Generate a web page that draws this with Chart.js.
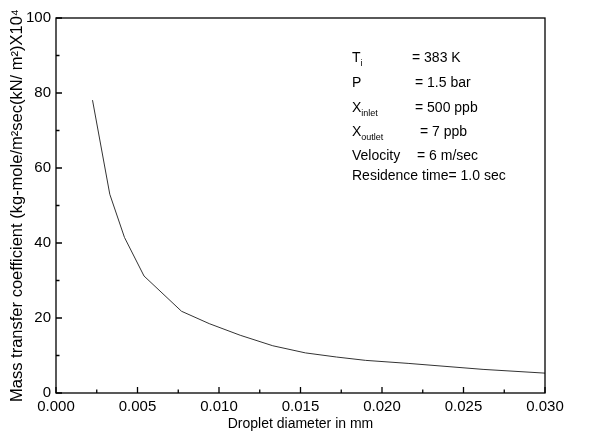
<!DOCTYPE html>
<html>
<head>
<meta charset="utf-8">
<script src="https://cdn.jsdelivr.net/npm/chart.js@4/dist/chart.umd.min.js"></script>
<style>
html,body{margin:0;padding:0;background:#fff;}
#wrap{width:608px;height:433px;}
</style>
</head>
<body>
<div id="wrap"><canvas id="c" width="608" height="433"></canvas></div>
<script>
// Data
const dropletDiameter = [0.00224, 0.0033, 0.0042, 0.0054, 0.0077, 0.0094, 0.0113, 0.0133, 0.0153, 0.0172, 0.0190, 0.0216, 0.0262, 0.0300];
const massTransferCoef = [78.1, 53.0, 41.5, 31.2, 21.8, 18.5, 15.4, 12.6, 10.7, 9.6, 8.7, 7.9, 6.3, 5.3];
const xTicks = [0.000, 0.005, 0.010, 0.015, 0.020, 0.025, 0.030];
const yTicks = [0, 20, 40, 60, 80, 100];
const xMinorTicks = [0.0025, 0.0075, 0.0125, 0.0175, 0.0225, 0.0275];
const yMinorTicks = [10, 30, 50, 70, 90];
// Annotation: [main, subscript, value]
const noteLabels = ["T", "P", "X", "X", "Velocity", "Residence time"];
const noteSubs = ["i", "", "inlet", "outlet", "", ""];
const noteValues = ["= 383 K", "= 1.5 bar", "= 500 ppb", "= 7 ppb", "= 6 m/sec", "= 1.0 sec"];

const FONT = "Liberation Sans, Arial, Helvetica, sans-serif";

const points = dropletDiameter.map((x, i) => ({x: x, y: massTransferCoef[i]}));

const framePlugin = {
  id: 'frame',
  afterDraw(chart) {
    const ctx = chart.ctx;
    const a = chart.chartArea;
    const xs = chart.scales.x, ys = chart.scales.y;
    ctx.save();
    ctx.strokeStyle = '#000';
    ctx.lineWidth = 1.3;
    ctx.strokeRect(a.left, a.top, a.right - a.left, a.bottom - a.top);
    ctx.beginPath();
    xTicks.forEach(v => { const p = xs.getPixelForValue(v); ctx.moveTo(p, a.bottom); ctx.lineTo(p, a.bottom - 6); });
    xMinorTicks.forEach(v => { const p = xs.getPixelForValue(v); ctx.moveTo(p, a.bottom); ctx.lineTo(p, a.bottom - 3.5); });
    yTicks.forEach(v => { const p = ys.getPixelForValue(v); ctx.moveTo(a.left, p); ctx.lineTo(a.left + 6, p); });
    yMinorTicks.forEach(v => { const p = ys.getPixelForValue(v); ctx.moveTo(a.left, p); ctx.lineTo(a.left + 3.5, p); });
    ctx.stroke();

    // annotation block
    ctx.fillStyle = '#000';
    ctx.textBaseline = 'alphabetic';
    const lineY = [62, 87, 112, 136, 160, 180];
    const valX = [412, 415, 415, 420, 417, 0];
    const left = a.left + 296;
    for (let i = 0; i < noteLabels.length; i++) {
      const y = lineY[i];
      ctx.font = '14px ' + FONT;
      ctx.textAlign = 'left';
      let txt = noteLabels[i];
      ctx.fillText(txt, left, y);
      let w = ctx.measureText(txt).width;
      if (noteSubs[i]) {
        ctx.font = '9px ' + FONT;
        ctx.fillText(noteSubs[i], left + w, y + 4);
      }
      ctx.font = '14px ' + FONT;
      if (valX[i]) {
        ctx.fillText(noteValues[i], valX[i], y);
      } else {
        ctx.fillText(noteValues[i], left + w, y);
      }
    }
    ctx.restore();
  }
};

new Chart(document.getElementById('c'), {
  type: 'scatter',
  data: {
    datasets: [{
      data: points,
      showLine: true,
      borderColor: '#333',
      borderWidth: 1,
      pointRadius: 0,
      tension: 0,
      fill: false
    }]
  },
  options: {
    responsive: false,
    animation: false,
    devicePixelRatio: 1,
    layout: {padding: {left: 0, top: 18, right: 63, bottom: 0}},
    plugins: {legend: {display: false}, tooltip: {enabled: false}},
    scales: {
      x: {
        type: 'linear', min: 0, max: 0.030,
        afterBuildTicks(s) { s.ticks = xTicks.map(v => ({value: v})); },
        afterFit(s) { s.height = 40; },
        grid: {display: false, drawTicks: false},
        border: {display: false},
        ticks: {
          color: '#000', padding: 5,
          font: {family: FONT, size: 15},
          callback: v => v.toFixed(3),
          maxRotation: 0, autoSkip: false
        },
        title: {display: true, text: 'Droplet diameter in mm', color: '#000',
          font: {family: FONT, size: 14}, padding: {top: 0, bottom: 0}}
      },
      y: {
        type: 'linear', min: 0, max: 100,
        afterBuildTicks(s) { s.ticks = yTicks.map(v => ({value: v})); },
        afterFit(s) { s.width = 56; },
        grid: {display: false, drawTicks: false},
        border: {display: false},
        ticks: {
          color: '#000', padding: 5,
          font: {family: FONT, size: 15}
        },
        title: {display: true, text: 'Mass transfer coefficient (kg-mole/m²sec(kN/ m²)X10⁴', color: '#000',
          font: {family: FONT, size: 16.5}, padding: {top: 8, bottom: 0}}
      }
    }
  },
  plugins: [framePlugin]
});
</script>
</body>
</html>
